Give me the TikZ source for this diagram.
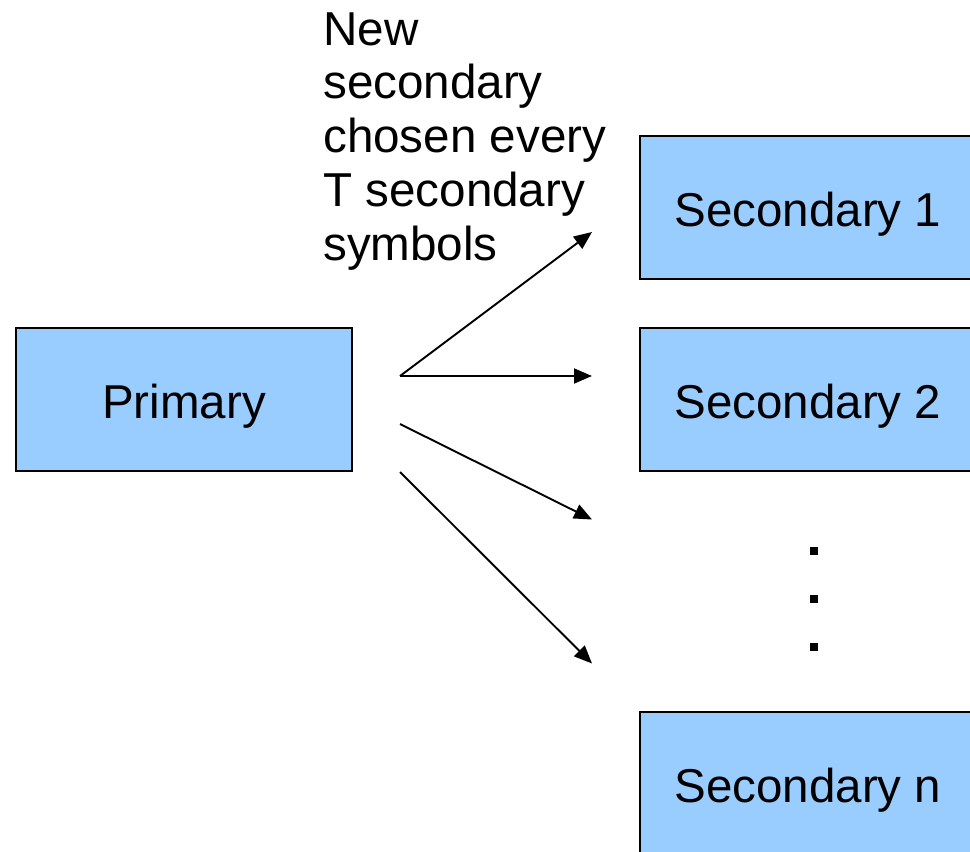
\documentclass[tikz,border=0pt]{standalone}
\usepackage{fontspec}
\setmainfont{Liberation Sans}
\usetikzlibrary{arrows.meta}
\begin{document}
\begin{tikzpicture}[x=1pt,y=-1pt,
  box/.style={draw=black, line width=1.8pt, fill=boxblue, minimum width=336pt,
    minimum height=143pt, inner sep=0pt, text height=38pt, text depth=0pt,
    font=\fontsize{47.5}{54}\selectfont},
  link/.style={line width=1.9pt, -{Triangle[length=18pt,width=15pt]}},
  dot/.style={fill=black, minimum size=8pt, inner sep=0pt}]
\definecolor{boxblue}{HTML}{99CCFF}
\useasboundingbox (0,0) rectangle (970,852);
\clip (0,0) rectangle (970,852);

% boxes
\node[box] (prim) at (184,399.5) {Primary};
\node[box] (sec1) at (808,207.5) {Secondary 1};
\node[box] (sec2) at (808,399.5) {Secondary 2};
\node[box] (secn) at (808,783.5) {Secondary n};

% caption above the fan of arrows (anchored on its last line)
\node[anchor=base west, inner sep=0pt, align=left,
  font=\fontsize{47.6}{53.8}\selectfont] (caption) at (323,260.2)
  {New\\secondary\\chosen every\\T secondary\\symbols};

% vertical ellipsis between the boxes
\node[dot] (d1) at (814,551) {};
\node[dot] (d2) at (814,599) {};
\node[dot] (d3) at (814,647) {};

% arrow end points
\coordinate (s1) at (400,376);
\coordinate (s3) at (400,424);
\coordinate (s4) at (400,472);
\coordinate (e1) at (592,232);
\coordinate (e2) at (592,376);
\coordinate (e3) at (592,519.5);
\coordinate (e4) at (592,663.5);

\draw[link] (s1) -- (e1);
\draw[link] (s1) -- (e2);
\draw[link] (s3) -- (e3);
\draw[link] (s4) -- (e4);
\end{tikzpicture}
\end{document}
